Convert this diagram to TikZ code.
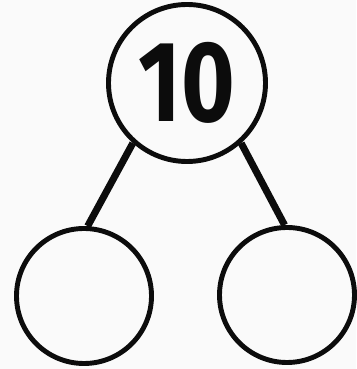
\documentclass[tikz,border=0pt]{standalone}
\usepackage{fontspec}
\usepackage{tikz}
\newfontfamily\bondfont{Fira Sans}[FakeStretch=0.8]
\definecolor{bondink}{RGB}{12,12,12}
\definecolor{paperc}{RGB}{250,250,250}

\begin{document}
\begin{tikzpicture}[x=0.03cm,y=0.03cm,
  part/.style={circle,draw=bondink,line width=4.2pt,inner sep=0pt,minimum size=4.05cm},
  link/.style={draw=bondink,line width=6pt}]
  % ---- paper ----
  \fill[paperc] (0,0) rectangle (356,369);
  \useasboundingbox (0,0) rectangle (356,369);
  % ---- whole (top) ----
  \node[part,minimum size=4.71cm,text=bondink,
        font=\bondfont\bfseries\fontsize{98}{98}\selectfont] (whole) at (187,286) {10};
  % ---- parts (bottom) ----
  \node[part] (partl) at (84,73) {};
  \node[part] (partr) at (287,74) {};
  % ---- links ----
  \draw[link] (whole.228) -- (partl.87);
  \draw[link] (whole.312) -- (partr.92);
\end{tikzpicture}
\end{document}
